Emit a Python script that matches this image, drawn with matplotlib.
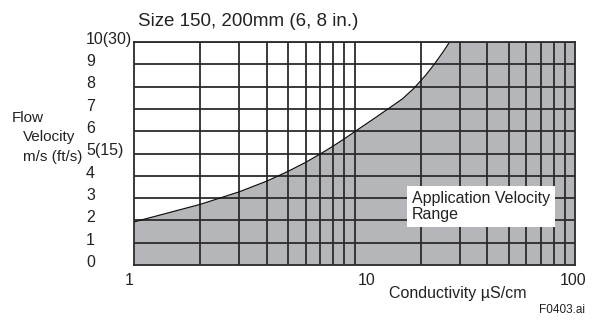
import numpy as np
import matplotlib
matplotlib.use("Agg")
import matplotlib.pyplot as plt
import matplotlib.transforms as mtransforms

plt.rcParams['font.family'] = ['Liberation Sans', 'DejaVu Sans']

# boundary of the application velocity range
cond = [1, 2, 3, 4, 5, 6, 7, 8, 9, 10, 12, 14.2, 16.5, 18.5, 21, 23, 25, 27]
velo = [1.93, 2.72, 3.28, 3.76, 4.2, 4.6, 4.98, 5.33, 5.66, 5.97, 6.5, 7.0, 7.45, 7.9, 8.5, 9.0, 9.5, 10.0]

x_minor = [2, 3, 4, 5, 6, 7, 8, 9, 10, 20, 30, 40, 50, 60, 70, 80, 90]
y_ticks = list(range(11))
y_labels = ['0', '1', '2', '3', '4', '5(15)', '6', '7', '8', '9', '10(30)']
x_ticks = [1, 10, 100]
x_labels = ['1', '10', '100']

GRAY = '#b5b6b9'
LINE = '#2b2b2b'
TXT = '#222222'

fig = plt.figure(figsize=(5.92, 3.2), dpi=100)
ax = fig.add_axes([134/592, 1 - 265/320, 441/592, 223/320])

fx = np.array(cond + [100])
fy = np.array(velo + [10])
ax.fill_between(fx, 0, fy, color=GRAY, lw=0, zorder=1)
ax.plot(cond, velo, color='#111111', lw=0.9, zorder=3)

for xv in x_minor:
    ax.axvline(xv, color=LINE, lw=1.3, zorder=2)
for yv in y_ticks[1:]:
    ax.axhline(yv, color=LINE, lw=1.3, zorder=2)

ax.set_xscale('log')
ax.set_xlim(1, 100)
ax.set_ylim(0, 10)
for s in ax.spines.values():
    s.set_color(LINE)
    s.set_linewidth(1.3)
    s.set_zorder(4)

ax.set_yticks(y_ticks)
ax.set_yticklabels(y_labels, fontsize=11.5, color=TXT)
ax.tick_params(axis='y', length=0, pad=34.5)
off = mtransforms.ScaledTranslation(0, 3/72, fig.dpi_scale_trans)
for lab in ax.get_yticklabels():
    lab.set_ha('left')
    lab.set_transform(lab.get_transform() + off)

ax.set_xticks(x_ticks)
ax.set_xticklabels(x_labels, fontsize=11.5, color=TXT)
ax.xaxis.set_minor_locator(matplotlib.ticker.NullLocator())
ax.tick_params(axis='x', length=0, pad=6)
xl = ax.get_xticklabels()
xl[0].set_ha('right')
xl[1].set_ha('left')
xl[1].set_transform(xl[1].get_transform() + mtransforms.ScaledTranslation(2/72, 0, fig.dpi_scale_trans))
xl[2].set_ha('center')
xl[2].set_transform(xl[2].get_transform() + mtransforms.ScaledTranslation(-1.5/72, 0, fig.dpi_scale_trans))

ax.text(0.630, 0.263, 'Application Velocity\nRange', transform=ax.transAxes,
        fontsize=11.5, color=TXT, ha='left', va='center', linespacing=1.1,
        bbox=dict(facecolor='white', edgecolor='none', pad=3.5), zorder=5)

fig.text(138/592, 1 - 22/320, 'Size 150, 200mm (6, 8 in.)', fontsize=13.5,
         color=TXT, ha='left', va='center')
fig.text(12/592, 1 - 117.5/320, 'Flow', fontsize=11, color=TXT, va='center')
fig.text(23/592, 1 - 137.5/320, 'Velocity', fontsize=11, color=TXT, va='center')
fig.text(23/592, 1 - 157/320, 'm/s (ft/s)', fontsize=11, color=TXT, va='center')
fig.text(458/592, 1 - 293.5/320, 'Conductivity µS/cm', fontsize=11.5,
         color=TXT, ha='center', va='center')
fig.text(539/592, 1 - 310/320, 'F0403.ai', fontsize=8.5, color=TXT, va='center')

fig.savefig('out.png', dpi=100)
